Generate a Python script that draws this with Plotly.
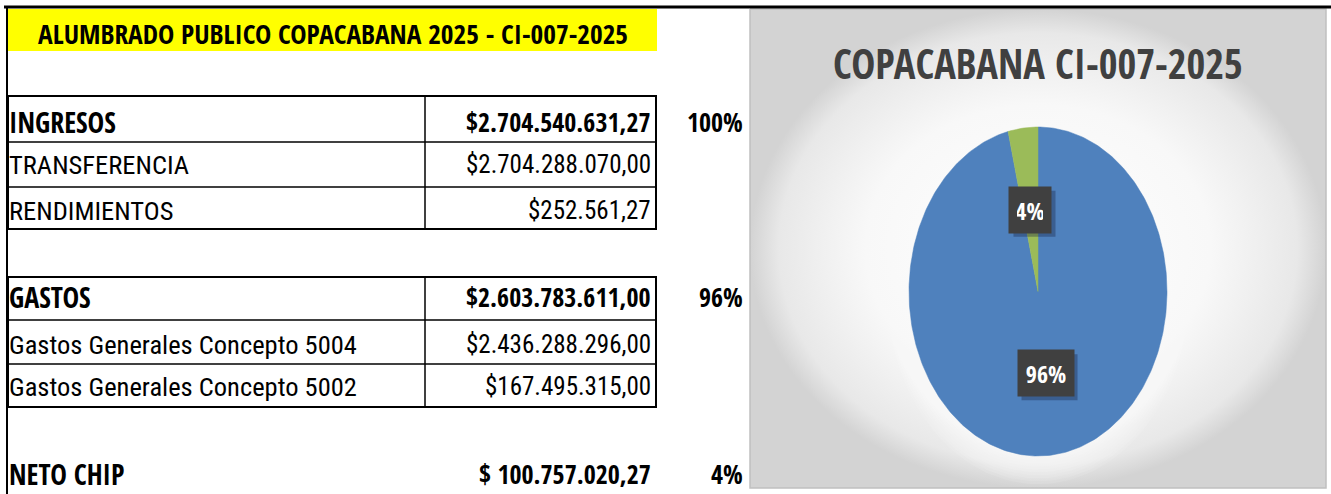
import math
import plotly.graph_objects as go

# ---------------- data ----------------
header_title = "ALUMBRADO PUBLICO COPACABANA 2025 - CI-007-2025"
chart_title = "COPACABANA CI-007-2025"

row_labels = ["INGRESOS", "TRANSFERENCIA", "RENDIMIENTOS",
              "GASTOS", "Gastos Generales Concepto 5004", "Gastos Generales Concepto 5002",
              "NETO CHIP"]
row_values = [2704540631.27, 2704288070.00, 252561.27,
              2603783611.00, 2436288296.00, 167495315.00,
              100757020.27]
row_bold = [True, False, False, True, False, False, True]
row_prefix = ["$", "$", "$", "$", "$", "$", "$ "]

pie_labels = ["GASTOS", "NETO CHIP"]
pie_values = [2603783611.00, 100757020.27]
pie_colors = ["#4F81BD", "#9BBB59"]

# ---------------- helpers ----------------
BOLD = "Open Sans Condensed, Roboto Condensed, DejaVu Sans Condensed, sans-serif"
REG = "Roboto Condensed, DejaVu Sans Condensed, sans-serif"
W, H = 1331, 494


def fmt(v, prefix):
    s = f"{v:,.2f}"
    s = s.replace(",", "X").replace(".", ",").replace("X", ".")
    return prefix + s


fig = go.Figure()

# chart background (radial gradient)
bx0, bx1, by0, by1 = 750, 1326, 9, 488
fig.add_trace(go.Scatter(
    x=[bx0, bx1, bx1, bx0, bx0], y=[by0, by0, by1, by1, by0],
    mode="lines", line=dict(color="#c0c0c0", width=1.5),
    fill="toself",
    fillgradient=dict(type="radial",
                      colorscale=[[0, "#ffffff"], [0.6, "#f8f8f8"], [0.9, "#e8e8e8"], [1, "#d3d3d3"]]),
    hoverinfo="skip", showlegend=False, xaxis="x", yaxis="y"))

# soft white glow around the pie
GR = 1.2
for k in range(10):
    s = 1.01 + 0.018 * k
    xs = [s * math.sin(2 * math.pi * i / 180) for i in range(181)]
    ys = [s * math.cos(2 * math.pi * i / 180) for i in range(181)]
    fig.add_trace(go.Scatter(x=xs, y=ys, mode="lines", fill="toself",
                             fillcolor="rgba(255,255,255,0.1)", line=dict(width=0),
                             hoverinfo="skip", showlegend=False, xaxis="x2", yaxis="y2"))

# pie slices drawn as ellipse sectors on their own axes
total = sum(pie_values)
start = 0.0
label_pos = []
for lab, val, col in zip(pie_labels, pie_values, pie_colors):
    frac = val / total
    a0, a1 = start * 2 * math.pi, (start + frac) * 2 * math.pi
    n = max(4, int(360 * frac))
    xs, ys = [0.0], [0.0]
    for i in range(n + 1):
        t = a0 + (a1 - a0) * i / n
        xs.append(math.sin(t))
        ys.append(math.cos(t))
    xs.append(0.0)
    ys.append(0.0)
    fig.add_trace(go.Scatter(x=xs, y=ys, mode="lines", fill="toself",
                             fillcolor=col, line=dict(color=col, width=0.5),
                             name=lab, showlegend=False, hoverinfo="name",
                             xaxis="x2", yaxis="y2"))
    mid = (a0 + a1) / 2
    label_pos.append((0.5 * math.sin(mid), 0.5 * math.cos(mid), f"{round(frac * 100):.0f}%"))
    start += frac

# ellipse geometry in pixels
cx, cy, rx, ry = 1038, 291.5, 129, 164.5
PAD = 8

shapes = []
shapes.append(dict(type="line", x0=4, x1=W, y0=7, y1=7, line=dict(color="black", width=3)))
shapes.append(dict(type="line", x0=7, x1=7, y0=7, y1=H, line=dict(color="black", width=2)))
shapes.append(dict(type="rect", x0=8, x1=657, y0=9, y1=51, fillcolor="#FFFF00",
                   line=dict(width=0), layer="below"))

blocks = [(96, [142, 187], 229), (277, [320, 364], 407)]
for top, mids, bot in blocks:
    shapes.append(dict(type="rect", x0=8, x1=656, y0=top, y1=bot,
                       line=dict(color="black", width=2)))
    for m in mids:
        shapes.append(dict(type="line", x0=8, x1=656, y0=m, y1=m,
                           line=dict(color="black", width=1.5)))
    shapes.append(dict(type="line", x0=425, x1=425, y0=top, y1=bot,
                       line=dict(color="black", width=1.5)))

annotations = []
annotations.append(dict(x=333, y=33, text=f"<b>{header_title}</b>", showarrow=False,
                        xref="x", yref="y", font=dict(family=BOLD, size=27.4, color="black")))

row_y = [122, 164, 210, 297, 344, 386, 474]
for lab, val, b, pre, y in zip(row_labels, row_values, row_bold, row_prefix, row_y):
    if b:
        t1, t2 = f"<b>{lab}</b>", f"<b>{fmt(val, pre)}</b>"
        f1 = dict(family=BOLD, size=28, color="black")
        f2 = dict(family=BOLD, size=26, color="black")
    else:
        t1, t2 = lab, fmt(val, pre)
        f1 = dict(family=REG, size=26.5, color="black")
        f2 = dict(family=REG, size=25, color="black")
    annotations.append(dict(x=7, y=y, text=t1, showarrow=False, xanchor="left",
                            xref="x", yref="y", font=f1))
    annotations.append(dict(x=653, y=y, text=t2, showarrow=False, xanchor="right",
                            xref="x", yref="y", font=f2))

base = row_values[0]
for idx in [0, 3, 6]:
    pct = row_values[idx] / base * 100
    annotations.append(dict(x=745, y=row_y[idx], text=f"<b>{pct:.0f}%</b>", showarrow=False,
                            xanchor="right", xref="x", yref="y",
                            font=dict(family=BOLD, size=26, color="black")))

annotations.append(dict(x=1038, y=63, text=f"<b>{chart_title}</b>", showarrow=False,
                        xref="x", yref="y", font=dict(family=BOLD, size=40.5, color="#404040")))

# data labels: dark boxes with an offset shadow
for lx, ly, txt in label_pos:
    bw, bh, off = 14 * (len(txt) + 1), 46, 4
    shapes.append(dict(type="rect", xref="x2", yref="y2",
                       x0=lx + (off - bw / 2) / rx, x1=lx + (off + bw / 2) / rx,
                       y0=ly - (off + bh / 2) / ry, y1=ly - (off - bh / 2) / ry,
                       fillcolor="rgba(20,30,60,0.35)", line=dict(width=0), layer="above"))
    annotations.append(dict(x=lx, y=ly, xref="x2", yref="y2", text=f"<b>{txt}</b>",
                            showarrow=False, bgcolor="#404040", borderpad=PAD,
                            width=bw - 2 * PAD, height=bh - 2 * PAD,
                            font=dict(family=BOLD, size=24, color="white")))

ex0, ex1 = cx - rx * GR, cx + rx * GR
ey0, ey1 = cy - ry * GR, cy + ry * GR

fig.update_layout(
    width=W, height=H, margin=dict(l=0, r=0, t=0, b=0),
    paper_bgcolor="white", plot_bgcolor="rgba(0,0,0,0)",
    xaxis=dict(range=[0, W], domain=[0, 1], visible=False, fixedrange=True),
    yaxis=dict(range=[H, 0], domain=[0, 1], visible=False, fixedrange=True),
    xaxis2=dict(range=[-GR, GR], domain=[ex0 / W, ex1 / W], visible=False, anchor="y2",
                fixedrange=True),
    yaxis2=dict(range=[-GR, GR], domain=[1 - ey1 / H, 1 - ey0 / H], visible=False, anchor="x2",
                fixedrange=True),
    shapes=shapes, annotations=annotations, showlegend=False,
)

fig.write_html("out.html", include_plotlyjs=True, config={"displayModeBar": False},
               post_script="document.body.style.margin='0';document.body.style.overflow='hidden';")
